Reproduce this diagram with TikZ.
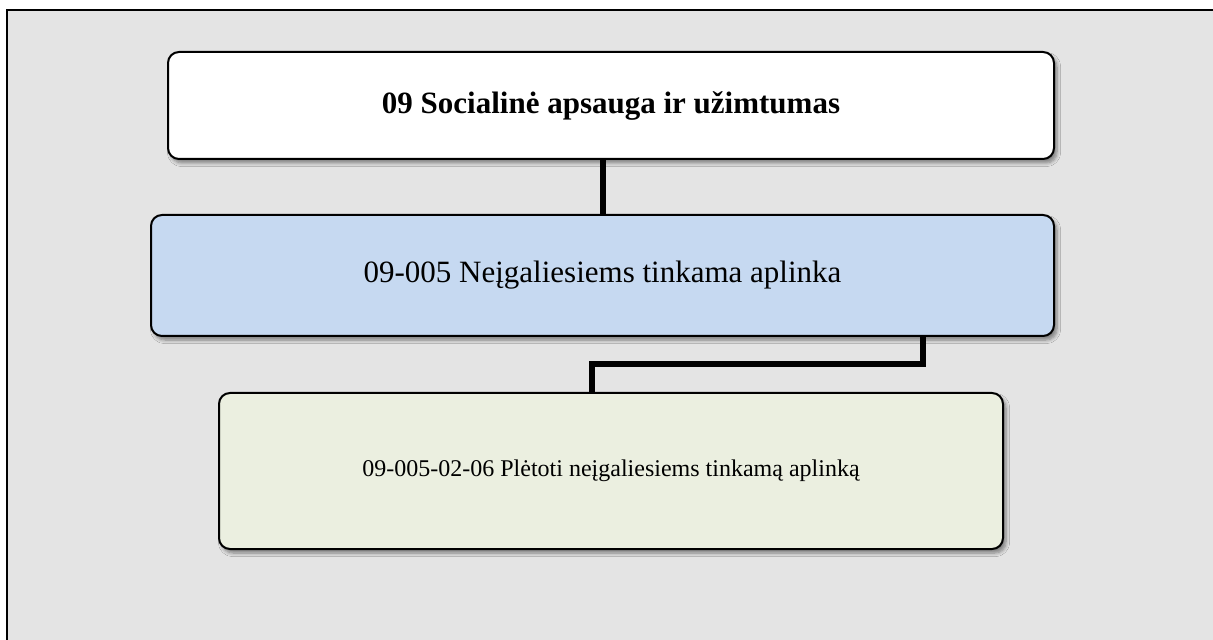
\documentclass[tikz,border=0pt]{standalone}
\usepackage{fontspec}
\setmainfont{Liberation Serif}
\usetikzlibrary{positioning,shadows.blur}
\definecolor{bggray}{RGB}{228,228,228}
\definecolor{progblue}{RGB}{198,217,241}
\definecolor{measgreen}{RGB}{235,239,224}

\begin{document}
\begin{tikzpicture}[x=0.5pt, y=-0.5pt, line join=miter]

% --- Styles ---
\tikzset{
  box/.style={draw=black, line width=1pt, rounded corners=5.5pt,
    inner sep=0pt, outer sep=0pt, align=center,
    blur shadow={shadow xshift=1.5pt, shadow yshift=-2pt,
      shadow blur steps=6, shadow opacity=45}},
  link/.style={line width=3pt, black}
}

% --- Frame and background ---
\useasboundingbox (0,0) rectangle (1213,640);
\fill[bggray] (7,10) rectangle (1213,640);
\draw[line width=1pt] (7,640) -- (7,10) -- (1213,10);

% --- Boxes ---
\node[box, fill=white, minimum width=443pt, minimum height=53.5pt,
  font=\fontsize{15.5}{18}\selectfont\bfseries]
  (program) at (611,105.5) {09 Socialinė apsauga ir užimtumas};

\node[box, fill=progblue, minimum width=451.5pt, minimum height=60.5pt,
  font=\fontsize{15.5}{18}\selectfont]
  (goal) at (602.5,275.5) {09-005 Neįgaliesiems tinkama aplinka};

\node[box, fill=measgreen, minimum width=392pt, minimum height=78pt,
  font=\fontsize{12}{14}\selectfont]
  (measure) at (611,471) {09-005-02-06 Plėtoti neįgaliesiems tinkamą aplinką};

% --- Connectors ---
\draw[link] (goal.north) -- (goal.north |- program.south);
\draw[link] ([xshift=160pt]goal.south) -- ++(0,28)
  -| ([xshift=-9.5pt]measure.north);

\end{tikzpicture}
\end{document}
